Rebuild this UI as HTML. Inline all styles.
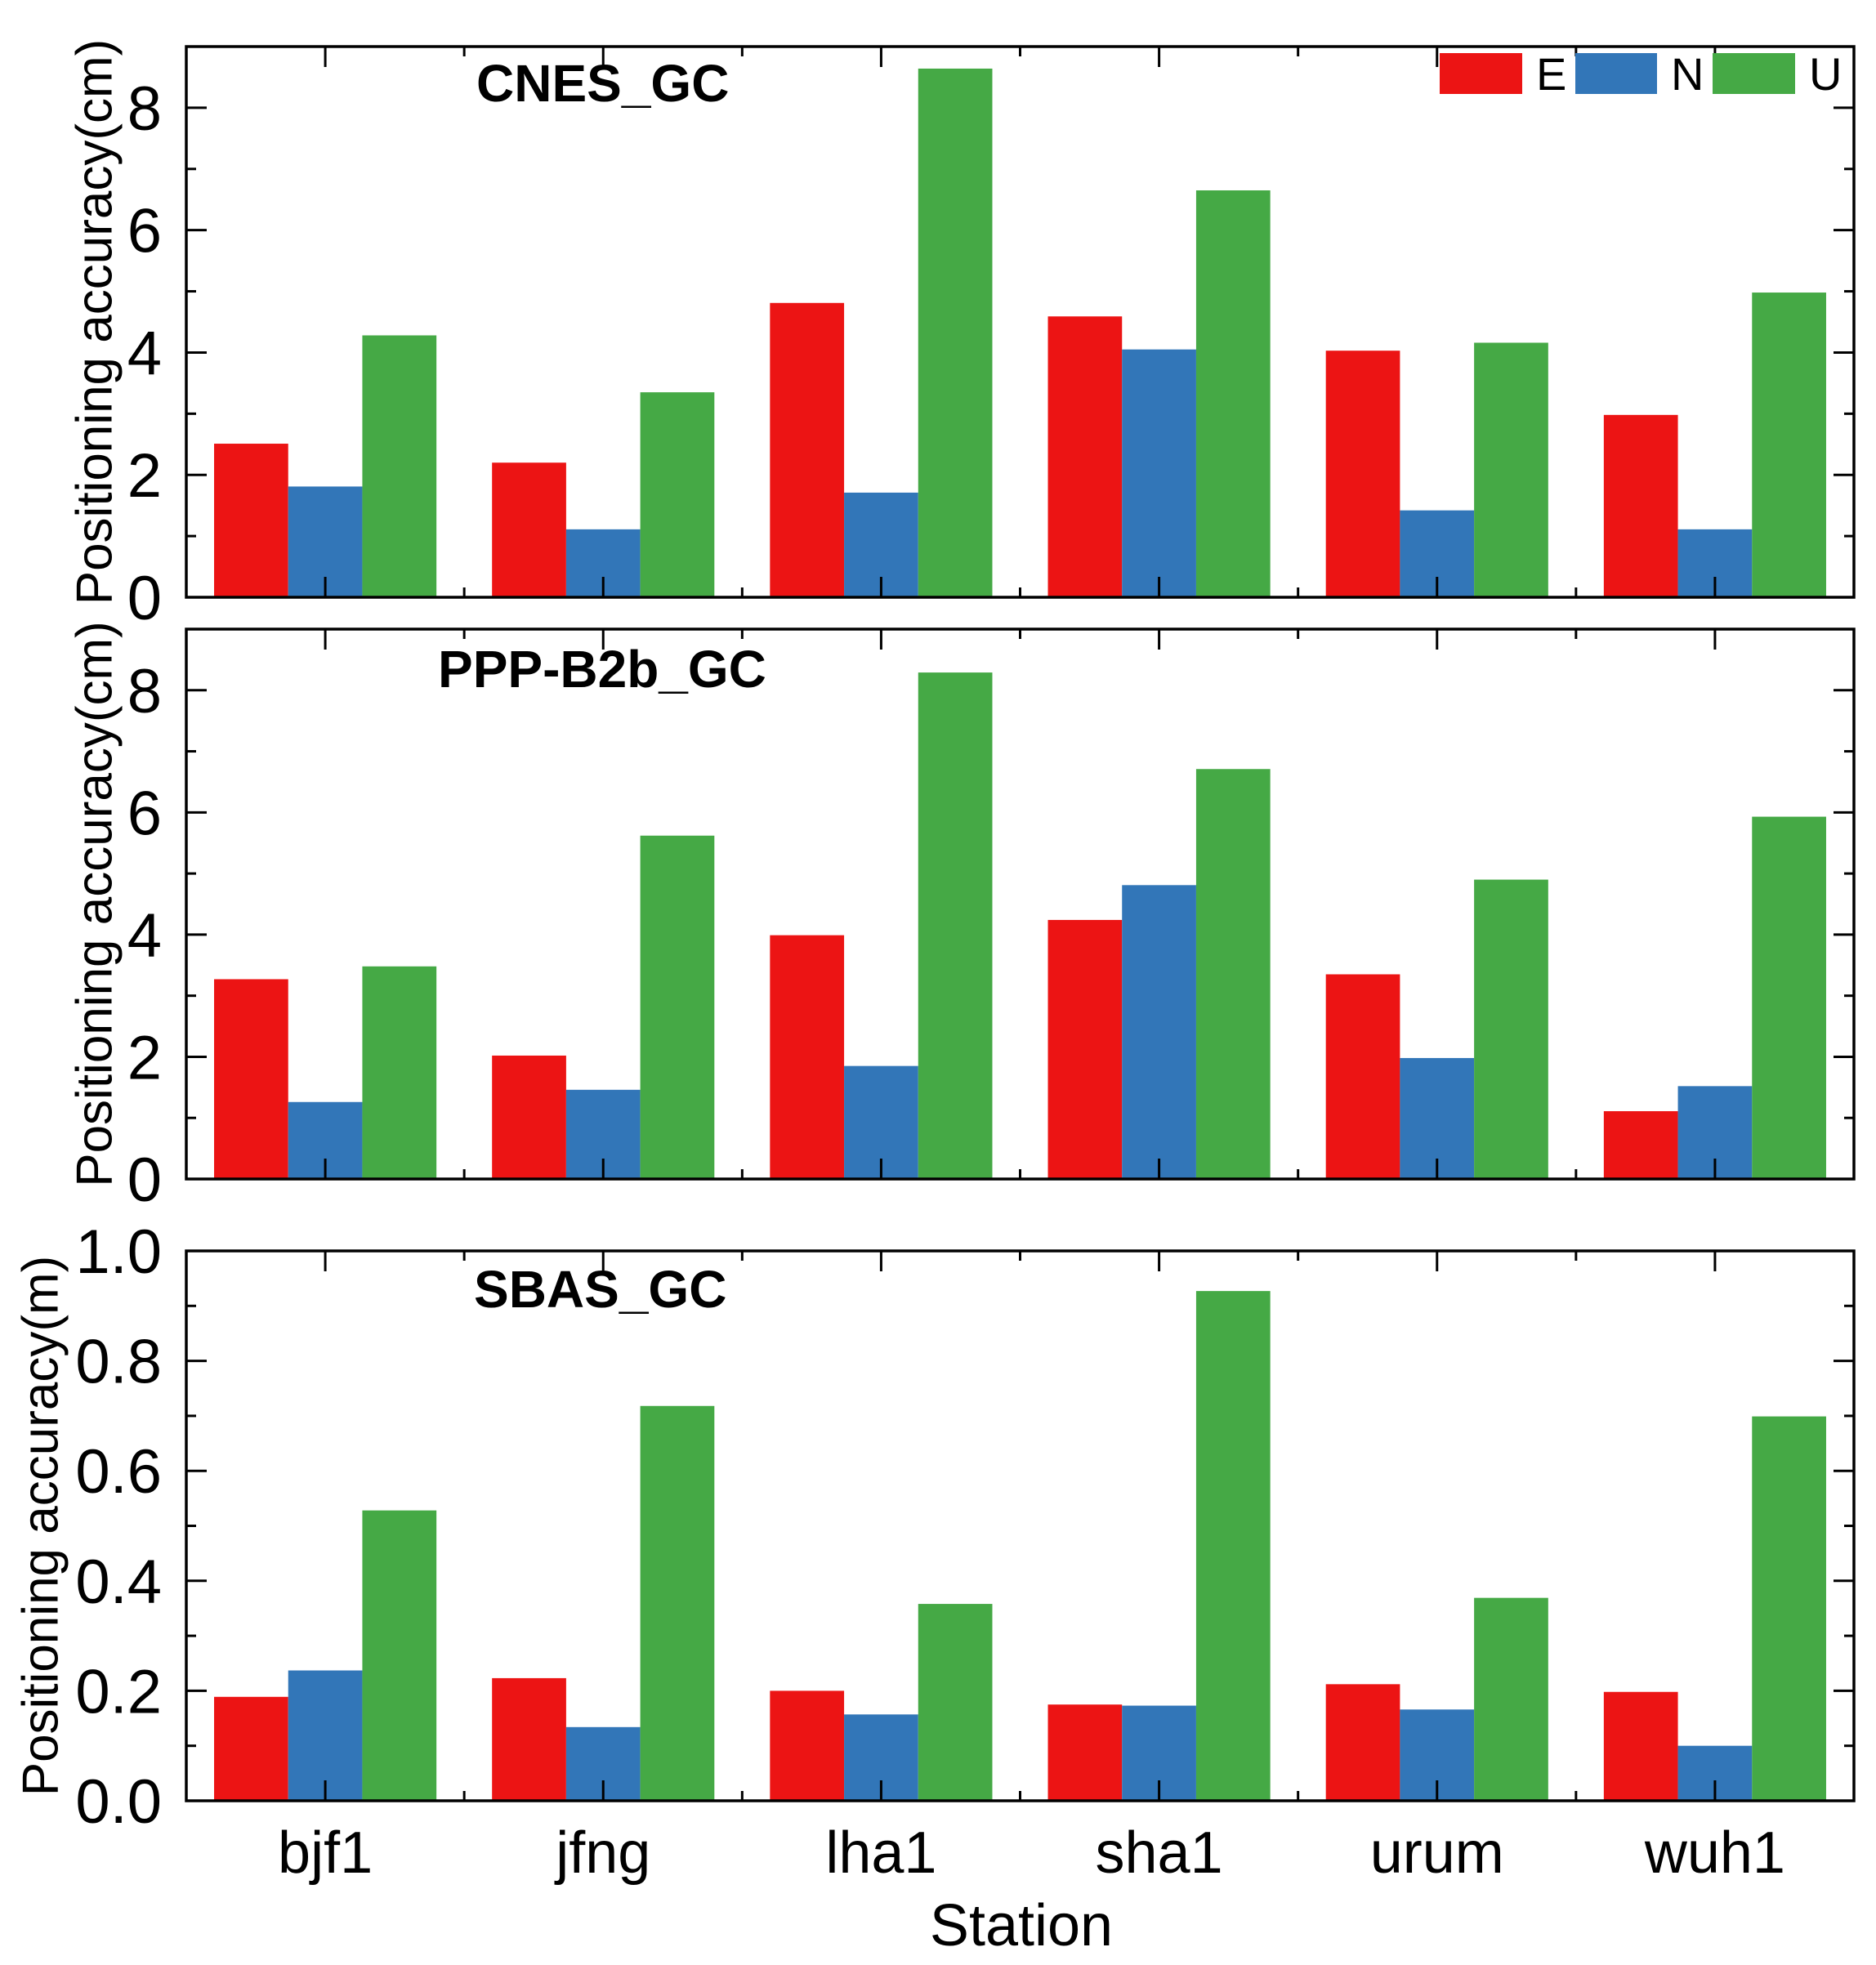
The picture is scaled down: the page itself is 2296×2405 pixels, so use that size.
<!DOCTYPE html>
<html><head><meta charset="utf-8"><style>
html,body{margin:0;padding:0;background:#fff;}
svg{display:block;font-family:"Liberation Sans",Arial,sans-serif;}
</style></head><body>
<svg id="chart" width="2296" height="2405" viewBox="0 0 2296 2405" xmlns="http://www.w3.org/2000/svg">
<rect width="2296" height="2405" fill="#fff"/>
<g id="legend">
<rect x="1762" y="65" width="101" height="50" fill="#ec1414"/>
<text x="1880" y="110" font-size="56">E</text>
<rect x="1928" y="65" width="100" height="50" fill="#3276b8"/>
<text x="2045" y="110" font-size="56">N</text>
<rect x="2096" y="65" width="101" height="50" fill="#45a945"/>
<text x="2214" y="110" font-size="56">U</text>
</g>
<text x="1250" y="2381" font-size="72" text-anchor="middle">Station</text>
</svg>
<script>
const stations = ["bjf1","jfng","lha1","sha1","urum","wuh1"];
const seriesNames = ["E","N","U"];
const cnesE = [2.51,2.20,4.81,4.59,4.03,2.98];
const cnesN = [1.81,1.11,1.71,4.05,1.42,1.11];
const cnesU = [4.28,3.35,8.64,6.65,4.16,4.98];
const b2bE = [3.27,2.02,3.99,4.24,3.35,1.11];
const b2bN = [1.26,1.46,1.85,4.81,1.98,1.52];
const b2bU = [3.48,5.62,8.29,6.71,4.90,5.93];
const sbasE = [0.189,0.223,0.200,0.175,0.212,0.198];
const sbasN = [0.237,0.134,0.157,0.173,0.166,0.100];
const sbasU = [0.528,0.718,0.358,0.927,0.369,0.699];
const cmTicks = [0,2,4,6,8];
const mTicks = [0.0,0.2,0.4,0.6,0.8,1.0];
const mTickLabels = ["0.0","0.2","0.4","0.6","0.8","1.0"];

const NS="http://www.w3.org/2000/svg";
const svg=document.getElementById('chart');
const colors=["#ec1414","#3276b8","#45a945"];
const X0=228,X1=2269;
function mk(tag,attrs,parent){const e=document.createElementNS(NS,tag);for(const k in attrs)e.setAttribute(k,attrs[k]);(parent||svg).appendChild(e);return e;}
function xBand(i){return X0+(X1-X0)/stations.length*i;}
const bw=(X1-X0)/stations.length;

const panels=[
 {key:"cnes",title:"CNES_GC",tx:583,ty:124,top:57,bot:731,max:9,ticks:cmTicks,labels:cmTicks.map(String),minorStep:1,series:[cnesE,cnesN,cnesU],ytitle:"Positioning accuracy(cm)",ytx:116},
 {key:"b2b",title:"PPP-B2b_GC",tx:536,ty:841,top:770,bot:1443,max:9,ticks:cmTicks,labels:cmTicks.map(String),minorStep:1,series:[b2bE,b2bN,b2bU],ytitle:"Positioning accuracy(cm)",ytx:116},
 {key:"sbas",title:"SBAS_GC",tx:580,ty:1600,top:1531,bot:2204,max:1.0,ticks:mTicks,labels:mTickLabels,minorStep:0.1,series:[sbasE,sbasN,sbasU],ytitle:"Positioning accuracy(m)",ytx:50}
];

panels.forEach(p=>{
  const g=mk('g',{});
  
  
  const y=v=>p.bot-(p.bot-p.top)*v/p.max;
  p.series.forEach((arr,s)=>{
    arr.forEach((v,i)=>{
      const w=bw*0.8/3;
      const x=xBand(i)+bw*0.1+w*s;
      const r=mk('rect',{x:x,y:y(v),width:w,height:p.bot-y(v),fill:colors[s]},g);
      
      
    });
  });
  for(let v=0;v<=p.max+1e-9;v+=p.minorStep){
    const vv=Math.round(v*1000)/1000;
    const major=p.ticks.some(t=>Math.abs(t-vv)<1e-6);
    const len=major?25:12;
    mk('line',{x1:X0,x2:X0+len,y1:y(vv),y2:y(vv),stroke:'#000','stroke-width':3},g);
    mk('line',{x1:X1,x2:X1-len,y1:y(vv),y2:y(vv),stroke:'#000','stroke-width':3},g);
  }
  p.ticks.forEach((t,i)=>{
    const tl=mk('text',{x:198,y:y(t)+27,'font-size':76,'text-anchor':'end'},g);
    tl.textContent=p.labels[i];
    
    
  });
  for(let i=0;i<=stations.length*2;i++){
    const x=X0+bw/2*i;
    const major=i%2===1;
    const len=major?25:12;
    mk('line',{x1:x,x2:x,y1:p.top,y2:p.top+len,stroke:'#000','stroke-width':3},g);
    mk('line',{x1:x,x2:x,y1:p.bot,y2:p.bot-len,stroke:'#000','stroke-width':3},g);
  }
  const fr=mk('rect',{x:X0,y:p.top,width:X1-X0,height:p.bot-p.top,fill:'none',stroke:'#000','stroke-width':3.5},g);
  
  
  const tt=mk('text',{x:p.tx,y:p.ty,'font-size':64,'font-weight':'bold'},g);
  tt.textContent=p.title;
  
  
  const cy=(p.top+p.bot)/2;
  const yt=mk('text',{x:p.ytx,y:cy,'font-size':62,'text-anchor':'middle',transform:'rotate(-90 '+p.ytx+' '+cy+')','dominant-baseline':'central'},g);
  yt.textContent=p.ytitle;
  
  
});
stations.forEach((s,i)=>{
  const t=mk('text',{x:xBand(i)+bw/2,y:2292,'font-size':72,'text-anchor':'middle'});
  t.textContent=s;
  
  
});
svg.appendChild(document.getElementById('legend'));
</script>
</body></html>
